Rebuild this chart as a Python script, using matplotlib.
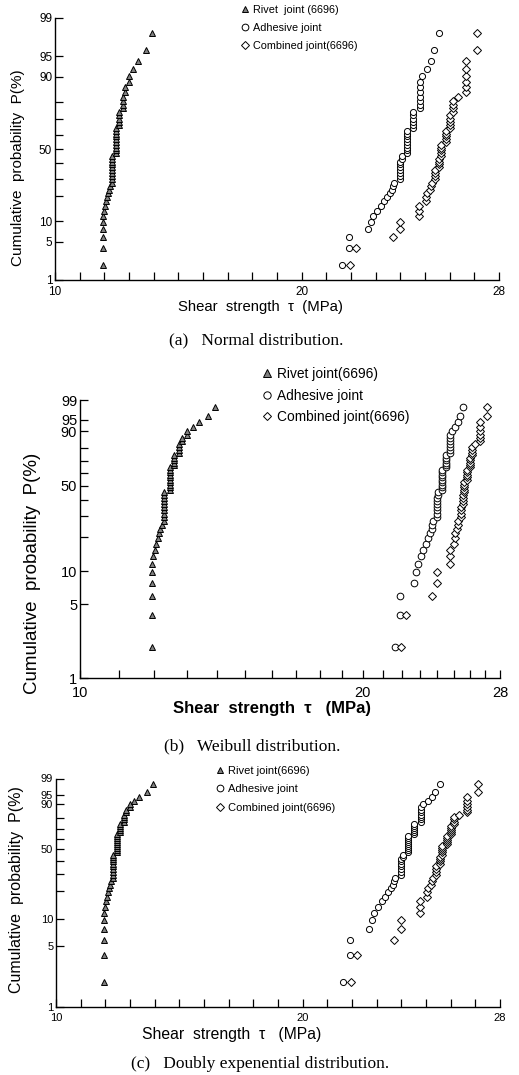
import math
import numpy as np
import matplotlib
matplotlib.use('Agg')
import matplotlib.pyplot as plt

plt.rcParams['font.family'] = ['Liberation Sans', 'DejaVu Sans']

# shear strength (MPa), 50 specimens per joint type, sorted
rivet = [11.93, 11.93, 11.93, 11.93, 11.93, 11.93,
         11.97, 12.02, 12.06, 12.10, 12.14, 12.18, 12.22,
         12.30, 12.30, 12.30, 12.30, 12.30, 12.30, 12.30, 12.30, 12.30, 12.30,
         12.47, 12.47, 12.47, 12.47, 12.47, 12.47, 12.47, 12.47, 12.47, 12.47,
         12.60, 12.60, 12.60, 12.60, 12.60,
         12.74, 12.74, 12.74, 12.74,
         12.84, 12.84, 13.00, 13.00, 13.18, 13.38, 13.68, 13.92]
adhesive = [21.63, 21.93, 21.93, 22.70, 22.80, 22.90, 23.05, 23.20, 23.33, 23.47,
            23.58, 23.68, 23.72, 23.76,
            23.97, 23.97, 23.97, 23.97, 23.97, 23.97, 23.97,
            24.08, 24.08,
            24.26, 24.26, 24.26, 24.26, 24.26, 24.26, 24.26, 24.26, 24.26,
            24.50, 24.50, 24.50, 24.50, 24.50, 24.50,
            24.80, 24.80, 24.80, 24.80, 24.80, 24.80, 24.80,
            24.89, 25.07, 25.24, 25.36, 25.57]
combined = [21.96, 22.22, 23.69, 23.98, 24.00, 24.76, 24.76, 24.76, 25.03, 25.05,
            25.07, 25.20, 25.24, 25.27,
            25.42, 25.42, 25.42, 25.42,
            25.55, 25.55, 25.55, 25.55,
            25.66, 25.66, 25.66, 25.66, 25.66,
            25.84, 25.84, 25.84, 25.84, 25.84,
            26.01, 26.01, 26.01, 26.01, 26.01,
            26.15, 26.15, 26.15, 26.15,
            26.35,
            26.65, 26.65, 26.65, 26.65, 26.65, 26.65,
            27.12, 27.12]

# cumulative probability (%) by mean rank i/(n+1)
def ranks(x):
    n = len(x)
    return 100.0 * np.arange(1, n + 1) / (n + 1)

labels_a = ['Rivet  joint (6696)', 'Adhesive joint', 'Combined joint(6696)']
labels_b = ['Rivet joint(6696)', 'Adhesive joint', 'Combined joint(6696)']
ptick = [1, 5, 10, 50, 90, 95, 99]
ptick_minor = [20, 30, 40, 60, 70, 80]
xtick = [10, 20, 28]
xtick_minor = [v for v in range(10, 29) if v not in xtick]


# normal probability paper (Acklam inverse normal)
def _ppf(p):
    a = [-3.969683028665376e+01, 2.209460984245205e+02, -2.759285104469687e+02,
         1.383577518672690e+02, -3.066479806614716e+01, 2.506628277459239e+00]
    b = [-5.447609879822406e+01, 1.615858368580409e+02, -1.556989798598866e+02,
         6.680131188771972e+01, -1.328068155288572e+01]
    c = [-7.784894002430293e-03, -3.223964580411365e-01, -2.400758277161838e+00,
         -2.549671348850450e+00, 4.374664141464968e+00, 2.938163982698783e+00]
    d = [7.784695709041462e-03, 3.224671290700398e-01, 2.445134137142996e+00,
         3.754408661907416e+00]
    if p < 0.02425:
        q = math.sqrt(-2 * math.log(p))
        return (((((c[0]*q+c[1])*q+c[2])*q+c[3])*q+c[4])*q+c[5]) / \
               ((((d[0]*q+d[1])*q+d[2])*q+d[3])*q+1)
    if p > 1 - 0.02425:
        return -_ppf(1 - p)
    q = p - 0.5
    r = q * q
    return (((((a[0]*r+a[1])*r+a[2])*r+a[3])*r+a[4])*r+a[5])*q / \
           (((((b[0]*r+b[1])*r+b[2])*r+b[3])*r+b[4])*r+1)

_vppf = np.vectorize(_ppf, otypes=[float])
_verf = np.vectorize(math.erf, otypes=[float])

def norm_fwd(P):
    p = np.clip(np.asarray(P, float) / 100.0, 1e-9, 1 - 1e-9)
    return _vppf(p)

def norm_inv(z):
    z = np.asarray(z, float)
    return 50.0 * (1 + _verf(z / math.sqrt(2)))

# Weibull / doubly exponential (smallest value) paper
def wb_fwd(P):
    p = np.clip(np.asarray(P, float) / 100.0, 1e-9, 1 - 1e-9)
    return np.log(-np.log(1 - p))

def wb_inv(w):
    w = np.clip(np.asarray(w, float), -40, 4)
    return 100.0 * (1 - np.exp(-np.exp(w)))


def panel(rect, fwd, inv, logx, fs_tick, fs_leg, ms, labels, leg_xy, legsp,
          xpad):
    ax = fig.add_axes(rect)
    h1, = ax.plot(rivet, ranks(rivet), ls='none', marker='^', ms=ms,
                  mfc='0.5', mec='k', mew=0.7)
    h2, = ax.plot(adhesive, ranks(adhesive), ls='none', marker='o', ms=ms,
                  mfc='white', mec='k', mew=0.7)
    h3, = ax.plot(combined, ranks(combined), ls='none', marker='D', ms=ms*0.85,
                  mfc='white', mec='k', mew=0.7)
    if logx:
        ax.set_xscale('log')
    ax.set_yscale('function', functions=(fwd, inv))
    ax.set_xlim(10, 28)
    ax.set_ylim(1, 99)
    ax.set_xticks(xtick)
    ax.set_xticklabels([str(v) for v in xtick])
    ax.set_xticks(xtick_minor, minor=True)
    ax.xaxis.set_minor_formatter(plt.NullFormatter())
    ax.set_yticks(ptick)
    ax.set_yticklabels([str(v) for v in ptick])
    ax.set_yticks(ptick_minor, minor=True)
    ax.yaxis.set_minor_formatter(plt.NullFormatter())
    ax.tick_params(which='both', direction='in', length=6, width=0.9,
                   labelsize=fs_tick)
    ax.tick_params(axis='y', pad=2)
    ax.tick_params(axis='x', pad=xpad)
    ax.spines['top'].set_visible(False)
    ax.spines['right'].set_visible(False)
    for s in ['left', 'bottom']:
        ax.spines[s].set_linewidth(1.0)
    ax.legend([h1, h2, h3], labels, loc='upper left',
              bbox_to_anchor=leg_xy, bbox_transform=fig.transFigure,
              frameon=False, fontsize=fs_leg, handlelength=0.6,
              handletextpad=0.4, borderpad=0, borderaxespad=0,
              labelspacing=legsp, markerscale=1.1)
    return ax


W, H = 519, 1075
fig = plt.figure(figsize=(W / 100, H / 100), dpi=100)

def fx(px):
    return px / W

def fy(py):
    return 1 - py / H

# (a) normal
panel([fx(55), fy(280), fx(444), 262 / H], norm_fwd, norm_inv, False,
      8.5, 7.8, 4.4, labels_a, (fx(242), fy(5)), 0.75, 4)
fig.text(fx(18), fy(168), 'Cumulative  probability  P(%)', rotation=90,
         ha='center', va='center', fontsize=11)
fig.text(fx(260), fy(307), 'Shear  strength  τ  (MPa)', ha='center',
         va='center', fontsize=10.7)
fig.text(fx(256), fy(340), '(a)   Normal distribution.', ha='center',
         va='center', fontsize=12.5, family='Liberation Serif')

# (b) Weibull
panel([fx(80), fy(678), fx(420), 278 / H], wb_fwd, wb_inv, True,
      10.5, 9.9, 4.8, labels_b, (fx(263), fy(367)), 0.55, 6)
fig.text(fx(33), fy(573), 'Cumulative  probability  P(%)', rotation=90,
         ha='center', va='center', fontsize=13.5)
fig.text(fx(272), fy(709), 'Shear  strength  τ   (MPa)', ha='center',
         va='center', fontsize=12, weight='bold')
fig.text(fx(252), fy(746), '(b)   Weibull distribution.', ha='center',
         va='center', fontsize=12.5, family='Liberation Serif')

# (c) doubly exponential
panel([fx(56), fy(1007), fx(444), 228.5 / H], wb_fwd, wb_inv, False,
      8, 8, 4.4, labels_b, (fx(217), fy(766)), 0.75, 4)
fig.text(fx(17), fy(890), 'Cumulative  probability  P(%)', rotation=90,
         ha='center', va='center', fontsize=11.5)
fig.text(fx(232), fy(1035), 'Shear  strength  τ   (MPa)', ha='center',
         va='center', fontsize=11.3)
fig.text(fx(260), fy(1064), '(c)   Doubly expenential distribution.',
         ha='center', va='center', fontsize=12.5, family='Liberation Serif')

fig.savefig('out.png', dpi=100)
